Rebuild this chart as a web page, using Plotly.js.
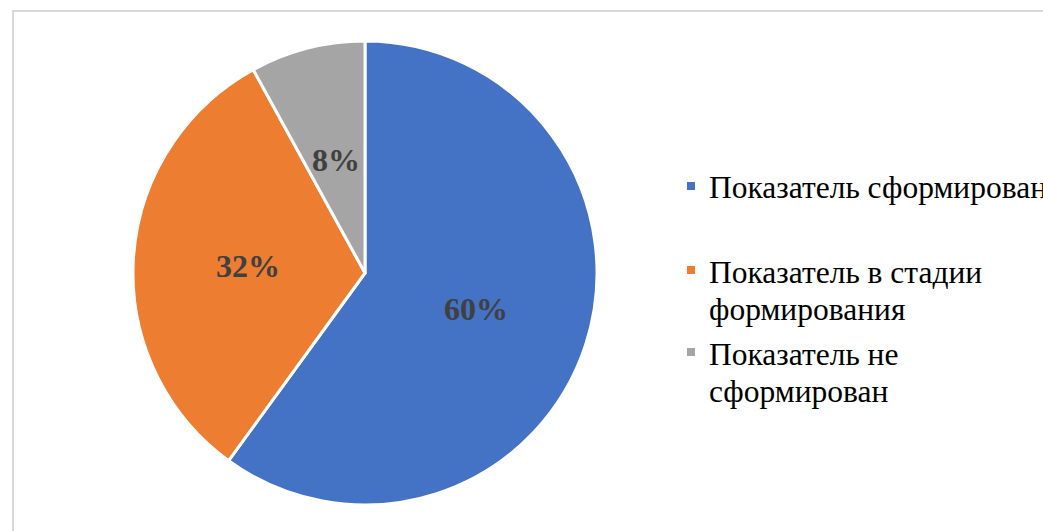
<!DOCTYPE html>
<html>
<head>
<meta charset="utf-8">
<script src="https://cdn.plot.ly/plotly-3.0.1.min.js"></script>
<style>html,body{margin:0;padding:0;background:#fff;}#chart{width:1043px;height:531px;}</style>
</head>
<body>
<div id="chart"></div>
<script>
// ---- data ----
var labels = ["Показатель сформирован", "Показатель в стадии формирования", "Показатель не сформирован"];
var values = [60, 32, 8];
var colors = ["#4472C4", "#ED7D31", "#A5A5A5"];
// legend text as wrapped in the reference
var legendLines = [["Показатель сформирован"], ["Показатель в стадии", "формирования"], ["Показатель не", "сформирован"]];

// ---- layout helpers ----
var W = 1043, H = 531;
function px(x) { return x / W; }
function py(y) { return 1 - y / H; }

var pieCx = 365, pieCy = 273, pieR = 232;
var serif = "Liberation Serif, Times New Roman, serif";

var trace = {
  type: "pie",
  labels: labels,
  values: values,
  sort: false,
  direction: "clockwise",
  rotation: 0,
  marker: { colors: colors, line: { color: "#ffffff", width: 3 } },
  textinfo: "none",
  hoverinfo: "label+percent",
  showlegend: false,
  domain: { x: [px(pieCx - pieR), px(pieCx + pieR)], y: [py(pieCy + pieR), py(pieCy - pieR)] }
};

var annotations = [];
var shapes = [];

// data labels: percent at half radius along each slice's mid angle
var total = values.reduce(function (a, b) { return a + b; }, 0);
var cum = 0;
values.forEach(function (v) {
  var mid = (cum + v / 2) / total * 2 * Math.PI; // clockwise from 12 o'clock
  cum += v;
  var r = pieR * 0.505;
  annotations.push({
    xref: "paper", yref: "paper",
    x: px(pieCx + r * Math.sin(mid)), y: py(pieCy - r * Math.cos(mid)),
    xanchor: "center", yanchor: "middle",
    text: Math.round(v / total * 100) + "%", showarrow: false,
    font: { family: serif, size: 32, color: "#404040", weight: "bold" }
  });
});

// legend built as annotations + squares
var entryTop = [188, 272, 354];
var lineStep = 37;
var textX = 707, sqX0 = 687, sqSize = 8;
legendLines.forEach(function (lines, i) {
  lines.forEach(function (t, j) {
    annotations.push({
      xref: "paper", yref: "paper",
      x: px(textX), y: py(entryTop[i] + j * lineStep),
      xanchor: "left", yanchor: "middle",
      text: t, showarrow: false,
      font: { family: serif, size: 31.5, color: "#000000" }
    });
  });
  shapes.push({
    type: "rect", xref: "paper", yref: "paper",
    x0: px(sqX0), x1: px(sqX0 + sqSize),
    y0: py(entryTop[i] - 2 - sqSize / 2), y1: py(entryTop[i] - 2 + sqSize / 2),
    fillcolor: colors[i], line: { width: 0 }
  });
});
// chart area border
shapes.push({
  type: "rect", xref: "paper", yref: "paper",
  x0: px(13), x1: px(1100), y0: py(600), y1: py(11),
  line: { color: "#D9D9D9", width: 2 }, fillcolor: "rgba(0,0,0,0)"
});

var layout = {
  width: W, height: H,
  margin: { l: 0, r: 0, t: 0, b: 0 },
  paper_bgcolor: "#ffffff",
  showlegend: false,
  annotations: annotations,
  shapes: shapes
};

Plotly.newPlot("chart", [trace], layout, { displayModeBar: false, staticPlot: true });
</script>
</body>
</html>
